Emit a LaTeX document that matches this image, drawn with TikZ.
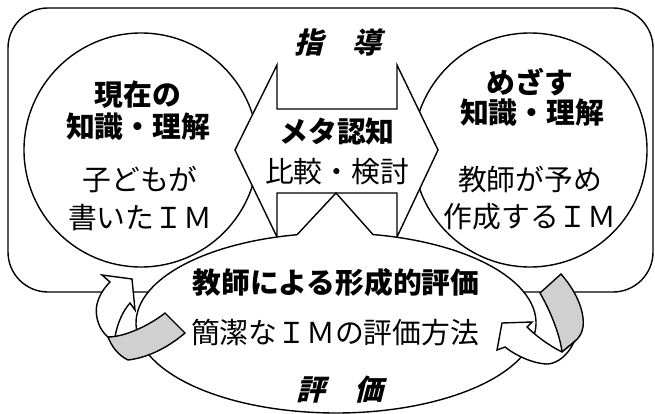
\documentclass[tikz,border=0pt]{standalone}
\usepackage{fontspec}
\setmainfont{Noto Sans CJK JP}
\newfontfamily\cjksl{Noto Sans CJK JP}[FakeSlant=0.25]
\definecolor{ribbon}{RGB}{208,208,208}
\tikzset{
  outline/.style={line width=1.4pt, line join=miter},
  rtxt/.style={inner sep=0pt, font=\fontsize{28.8pt}{32pt}\selectfont},
  btxt/.style={inner sep=0pt, font=\fontsize{28.8pt}{32pt}\selectfont\bfseries},
  itxt/.style={inner sep=0pt, font=\fontsize{28.8pt}{32pt}\selectfont\cjksl\bfseries},
  bubble/.style={circle, draw, fill=white, outline, minimum size=234pt, inner sep=0pt}
}
\begin{document}
\begin{tikzpicture}[x=1pt,y=-1pt]
\useasboundingbox (0,0) rectangle (655,414);
% outer rounded frame
\draw[outline, rounded corners=40pt] (8,8) rectangle (653,292);
% circles
\node[bubble] (cur) at (141,150) {};
\node[bubble] (goal) at (530,150) {};
% double arrow
\filldraw[outline, fill=white] (235,150) -- (277,65) -- (277,109) -- (397,109) -- (397,65)
  -- (438,150) -- (397,237) -- (397,193) -- (277,193) -- (277,237) -- cycle;
% ellipse callout
\filldraw[outline, fill=white] (373,234.55) arc[start angle=79.34, end angle=-258.76, x radius=200pt, y radius=90pt] -- (336,193) -- cycle;
% left curved arrow
\filldraw[outline, fill=white] (102,275) -- (132,279) -- (135,310) -- (130,303)
  .. controls (122,312) and (117,325) .. (115,337) -- (108,337)
  .. controls (103,333) and (99,327) .. (97,318)
  .. controls (94,305) and (100,292) .. (110,282) -- cycle;
\filldraw[outline, fill=ribbon] (108,337) .. controls (125,337) and (150,325) .. (165,313)
  -- (185,333) .. controls (165,350) and (145,358) .. (128,360)
  .. controls (118,355) and (112,347) .. cycle;
% right curved arrow
\filldraw[outline, fill=ribbon] (540,293) -- (561,274) .. controls (575,290) and (585,310) .. (583,327)
  .. controls (582,334) and (578,339) .. (574,342) -- (562,352)
  .. controls (560,335) and (550,310) .. cycle;
\filldraw[outline, fill=white] (502,323) -- (532,322) -- (527,327)
  .. controls (535,335) and (548,345) .. (562,352) -- (574,342)
  .. controls (568,355) and (558,363) .. (548,364)
  .. controls (533,364) and (515,355) .. (505,347) -- (497,350) -- cycle;
% texts
\node[itxt] (lead) at (338,43) {指　導};
\node[btxt] (c1) at (138,95) {現在の};
\node[btxt] (c2) at (138,127) {知識・理解};
\node[rtxt] (c3) at (140,180) {子どもが};
\node[rtxt] (c4) at (140,218) {書いたＩＭ};
\node[btxt] (g1) at (530,82) {めざす};
\node[btxt] (g2) at (532,113) {知識・理解};
\node[rtxt] (g3) at (530,180) {教師が予め};
\node[rtxt] (g4) at (530,217) {作成するＩＭ};
\node[btxt] (m1) at (337,132) {メタ認知};
\node[rtxt] (m2) at (337,172) {比較・検討};
\node[btxt] (e1) at (336,283) {教師による形成的評価};
\node[rtxt] (e2) at (335,333) {簡潔なＩＭの評価方法};
\node[itxt] (e3) at (340,390) {評　価};
\end{tikzpicture}
\end{document}
